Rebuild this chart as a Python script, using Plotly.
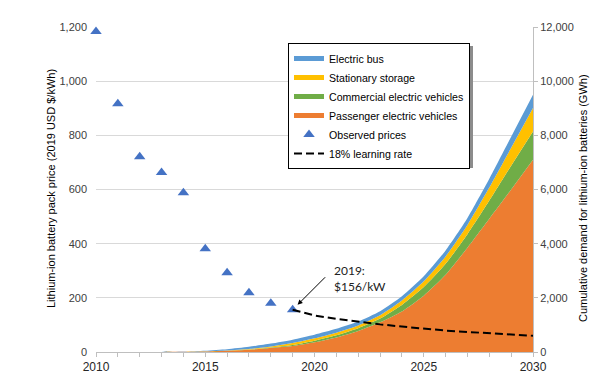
import plotly.graph_objects as go

# ---- data ----
years = list(range(2010, 2031))
passenger_ev = [0, 0, 0, 2, 7, 20, 45, 85, 150, 220, 360, 540, 780, 1100, 1500, 2080, 2850, 3850, 4920, 6000, 7100]
commercial_ev = [0, 0, 0, 0, 0, 1, 3, 6, 15, 40, 60, 80, 100, 135, 240, 320, 410, 500, 670, 880, 1045]
stationary = [0, 0, 0, 1, 3, 5, 10, 20, 35, 70, 85, 95, 100, 120, 160, 210, 270, 340, 480, 660, 865]
electric_bus = [0, 0, 0, 1, 5, 20, 45, 80, 110, 125, 135, 140, 145, 150, 160, 190, 220, 260, 330, 410, 490]

price_years = list(range(2010, 2020))
observed_prices = [1183, 917, 721, 663, 588, 381, 293, 219, 180, 156]

lr_years = list(range(2019, 2031))
learning_rate = [156, 135, 122, 111, 102, 94, 86, 79, 74, 69, 64, 60]

C_BUS = "#5B9BD5"
C_STAT = "#FFC000"
C_COMM = "#70AD47"
C_PASS = "#ED7D31"
C_MARK = "#4472C4"

FONT = "Liberation Sans, Arial, sans-serif"

fig = go.Figure()

# stacked areas on primary y (shown on right side)
for name, vals, col in [("Passenger electric vehicles", passenger_ev, C_PASS),
                        ("Commercial electric vehicles", commercial_ev, C_COMM),
                        ("Stationary storage", stationary, C_STAT),
                        ("Electric bus", electric_bus, C_BUS)]:
    fig.add_trace(go.Scatter(x=years, y=vals, stackgroup="demand", mode="none",
                             fillcolor=col, line=dict(width=0, shape="spline", smoothing=0.6), name=name,
                             showlegend=False, yaxis="y", hoverinfo="skip"))

# legend entries
for rank, (name, col) in enumerate([("Electric bus", C_BUS), ("Stationary storage", C_STAT),
                                    ("Commercial electric vehicles", C_COMM),
                                    ("Passenger electric vehicles", C_PASS)]):
    fig.add_trace(go.Scatter(x=[None], y=[None], mode="lines", line=dict(color=col, width=5),
                             name=name, legendrank=rank + 1, yaxis="y"))

fig.add_trace(go.Scatter(x=price_years, y=observed_prices, mode="markers", name="Observed prices",
                         marker=dict(symbol="triangle-up", size=10, color=C_MARK),
                         yaxis="y2", cliponaxis=False, legendrank=5))
fig.add_trace(go.Scatter(x=lr_years, y=learning_rate, mode="lines", name="18% learning rate",
                         line=dict(color="black", width=2, dash="8px,4px"),
                         yaxis="y2", legendrank=6))

# page offset (default body margin of the html page)
OFF = 8
W, H = 612, 381
# target plot area in window pixels
PL, PR, PT, PB = 96, 533, 27, 352
L = PL - OFF
R = W - (PR - OFF)
T = PT - OFF
B = H - (PB - OFF)
pw, ph = PR - PL, PB - PT

def px_x(p):
    return (p - PL) / pw

def px_y(p):
    return (PB - p) / ph

fig.update_layout(
    width=W, height=H,
    margin=dict(l=L, r=R, t=T, b=B, pad=0),
    paper_bgcolor="white", plot_bgcolor="white",
    font=dict(family=FONT, size=11, color="#404040"),
    showlegend=True,
    legend=dict(x=px_x(288), y=px_y(43), xanchor="left", yanchor="top",
                bgcolor="white", bordercolor="black", borderwidth=1,
                font=dict(family=FONT, size=10.6, color="black"), itemwidth=30,
                traceorder="normal"),
    xaxis=dict(range=[2010, 2030], tickvals=[2010, 2015, 2020, 2025, 2030],
               ticks="outside", ticklen=4, tickcolor="#bfbfbf",
               minor=dict(dtick=1, tick0=2010, ticks="outside", ticklen=4, tickcolor="#bfbfbf", showgrid=False),
               showline=True, linecolor="#bfbfbf", linewidth=1, showgrid=False, zeroline=False,
               tickfont=dict(size=12, color="#262626")),
    yaxis=dict(range=[0, 12000], dtick=2000, side="right", tickformat=",d",
               showgrid=True, gridcolor="#d9d9d9", gridwidth=1, zeroline=False,
               showline=True, linecolor="#bfbfbf", linewidth=1, ticks="outside", ticklen=4,
               tickcolor="#bfbfbf", tickfont=dict(size=11, color="#404040")),
    yaxis2=dict(range=[0, 1200], dtick=200, side="left", overlaying="y", tickformat=",d",
                showgrid=False, zeroline=False, showline=False, ticks="",
                ticklabelstandoff=8, tickfont=dict(size=11, color="#404040")),
)

# axis titles
fig.add_annotation(text="Lithium-ion battery pack price (2019 USD $/kWh)", textangle=-90,
                   xref="paper", yref="paper", x=px_x(51), y=px_y(189), showarrow=False,
                   xanchor="center", yanchor="middle", font=dict(size=11, color="black"))
fig.add_annotation(text="Cumulative demand for lithium-ion batteries (GWh)", textangle=-90,
                   xref="paper", yref="paper", x=px_x(583), y=px_y(198), showarrow=False,
                   xanchor="center", yanchor="middle", font=dict(size=11, color="black"))

# 2019 annotation
fig.add_annotation(text="2019:<br>$156/kW", xref="paper", yref="paper", x=px_x(332), y=px_y(261),
                   xanchor="left", yanchor="top", align="left", showarrow=False,
                   font=dict(family="Lato, Open Sans, sans-serif", size=12, color="#222222"))
fig.add_annotation(text=" ", x=2019, y=156, xref="x", yref="y2", showarrow=True,
                   ax=34, ay=-34, arrowhead=2, arrowsize=1, arrowwidth=1, arrowcolor="black",
                   standoff=7, font=dict(size=1))

# legend shadow
fig.add_shape(type="rect", xref="paper", yref="paper", x0=px_x(291), x1=px_x(473),
              y0=px_y(168), y1=px_y(46), fillcolor="#8c8c8c", line=dict(width=0), layer="above")

fig.write_html("out.html")
